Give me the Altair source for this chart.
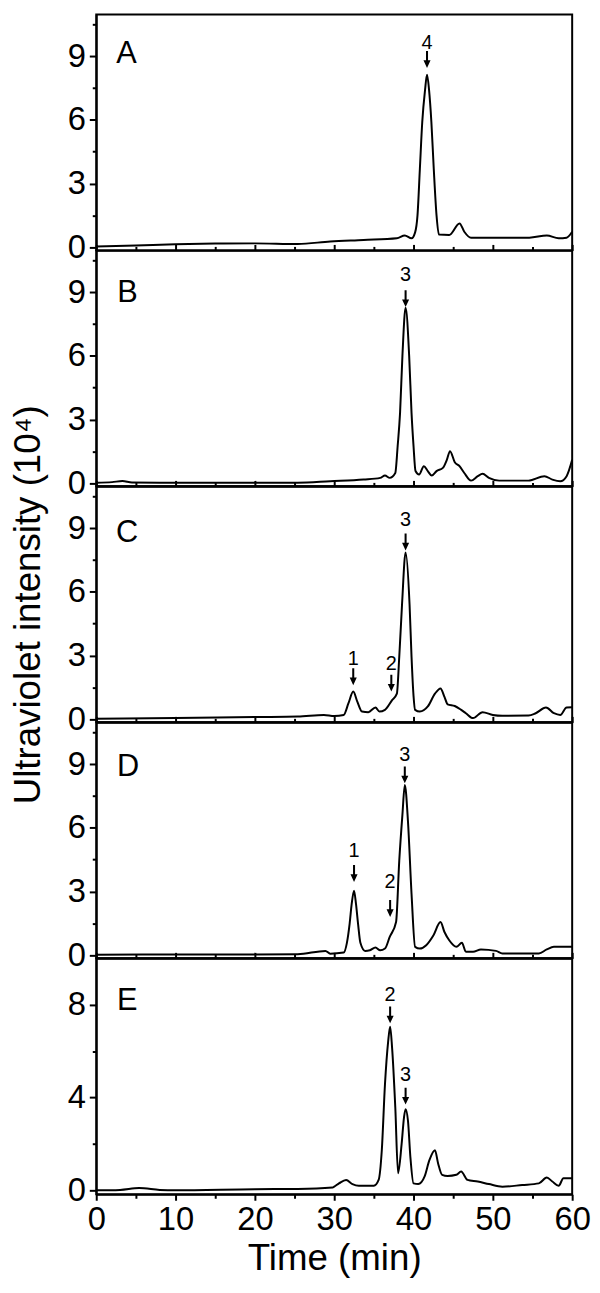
import altair as alt
import pandas as pd

FONT = "Liberation Sans"

# ---------------- data ----------------
x_ticks = [0, 5, 10, 15, 20, 25, 30, 35, 40, 45, 50, 55, 60]
y_ticks_ad = [0, 1.5, 3, 4.5, 6, 7.5, 9, 10.5]
y_ticks_e = [0, 2, 4, 6, 8]

panel_names = ["A", "B", "C", "D", "E"]
letter_x = [3.8, 3.94, 3.9, 4.0, 3.9]
letter_y = [9.1, 8.98, 8.75, 8.88, 8.17]

a_time = [0, 5, 10, 15, 20, 25.4, 29.5, 33.7, 37.9, 38.9, 39.75, 40.2, 40.5, 40.8, 41.1, 41.45,
          41.7, 41.96, 42.25, 42.55, 42.9, 43.2, 44.5, 45.8, 46.4, 47.25, 50.4, 54.6, 56.8, 58.3,
          59.3, 60]
a_int = [0.03, 0.08, 0.14, 0.17, 0.18, 0.15, 0.27, 0.34, 0.42, 0.55, 0.42, 0.7, 1.5, 3.7, 5.9, 7.4,
         8.13, 7.4, 5.9, 3.7, 1.5, 0.6, 0.58, 1.12, 0.73, 0.45, 0.45, 0.45, 0.55, 0.42,
         0.45, 0.73]

b_time = [0, 2, 3.3, 4.5, 10, 20, 25.4, 29.5, 33.7, 35.8, 36.4, 37.0, 37.7, 38.0, 38.3, 38.6,
          39.0, 39.45, 39.75, 40.0, 40.25, 40.7, 41.3, 41.8, 42.3, 42.9, 43.7, 44.2, 44.6, 45.2,
          45.8, 46.4, 47.25, 48.1, 48.7, 49.5, 50.8, 54.5, 56.5, 57.5, 58.5, 59.3, 60]
b_int = [0.02, 0.05, 0.1, 0.03, 0.02, 0.02, 0.02, 0.09, 0.17, 0.25, 0.36, 0.25, 0.48, 1.75, 3.3, 6.0,
         8.27, 6.0, 3.3, 1.75, 0.57, 0.41, 0.8, 0.57, 0.36, 0.57, 0.72, 1.1, 1.51, 0.99,
         0.8, 0.48, 0.12, 0.33, 0.44, 0.25, 0.12, 0.12, 0.33, 0.17, 0.09, 0.33, 1.1]

c_time = [0, 10, 20, 25.4, 28.7, 30.0, 31.2, 31.8, 32.4, 32.9, 33.5, 34.3, 35.2, 35.7, 36.4, 37.3,
          37.9, 38.2, 38.55, 39.0, 39.5, 39.75, 40.0, 40.2, 40.8, 41.8, 42.7, 43.4, 43.9, 44.3,
          45.2, 46.0, 46.6, 47.5, 48.7, 50.0, 51.2, 54.5, 55.4, 56.7, 57.7, 58.5, 59.3, 60]
c_int = [0.02, 0.05, 0.1, 0.12, 0.2, 0.15, 0.2, 0.75, 1.3, 0.84, 0.36, 0.33, 0.55, 0.36, 0.44, 0.9,
         1.2, 2.93, 5.4, 7.85, 5.4, 2.93, 1.1, 0.44, 0.36, 0.6, 1.2, 1.45, 1.05, 0.7,
         0.62, 0.44, 0.28, 0.05, 0.33, 0.2, 0.16, 0.17, 0.28, 0.55, 0.28, 0.2, 0.55, 0.56]

d_time = [0, 10, 20, 25.4, 28.9, 29.5, 31.2, 31.6, 31.95, 32.2, 32.5, 32.75, 33.0, 33.3, 33.9,
          34.5, 35.2, 35.8, 36.4, 37.0, 37.8, 38.2, 38.6, 38.9, 39.3, 39.75, 40.2, 40.8, 41.6,
          42.5, 43.4, 43.9, 44.5, 45.4, 46.1, 46.6, 47.5, 48.5, 50.4, 51.2, 55.8, 56.8, 57.7, 60]
d_int = [0.02, 0.03, 0.03, 0.04, 0.2, 0.07, 0.12, 0.58, 1.5, 2.4, 3.04, 2.4, 1.5, 0.58, 0.2,
         0.23, 0.36, 0.23, 0.31, 0.86, 1.56, 4.44, 6.62, 8.02, 6.3, 2.88, 0.39, 0.31, 0.47,
         0.93, 1.56, 1.09, 0.7, 0.39, 0.58, 0.16, 0.16, 0.27, 0.2, 0.08, 0.08, 0.27, 0.39, 0.39]

e_time = [0, 3, 5.4, 8, 10, 20, 25.4, 29.8, 30.0, 30.6, 31.5, 32.3, 33.1, 35.0, 35.6, 36.0, 36.4,
          36.8, 37.05, 37.3, 37.7, 38.05, 38.5, 38.8, 39.0, 39.3, 39.6, 40.0, 40.6, 41.4, 42.0,
          42.7, 43.1, 43.6, 44.3, 45.4, 46.0, 46.8, 48.1, 49.5, 51.2, 53.7, 55.8, 56.8, 57.5,
          58.3, 58.9, 60]
e_int = [0.0, 0.02, 0.1, 0.02, 0.0, 0.05, 0.06, 0.12, 0.16, 0.3, 0.45, 0.27, 0.2, 0.2, 0.45, 1.73,
         4.57, 6.41, 7.05, 6.13, 3.58, 0.74, 2.0, 3.15, 3.5, 3.0, 1.45, 0.3, 0.27, 0.6, 1.3,
         1.73, 1.16, 0.67, 0.62, 0.67, 0.81, 0.45, 0.38, 0.27, 0.16, 0.23, 0.3, 0.55, 0.38,
         0.2, 0.52, 0.52]

# peak annotations: label, time, arrow tip value, label centre value
ann_A = dict(label=["4"], t=[41.7], tip=[8.45], ty=[9.61])
ann_B = dict(label=["3"], t=[39.0], tip=[8.3], ty=[9.8])
ann_C = dict(label=["1", "2", "3"], t=[32.4, 37.2, 39.0], tip=[1.6, 1.3, 7.95], ty=[2.85, 2.62, 9.39])
ann_D = dict(label=["1", "2", "3"], t=[32.5, 37.05, 38.9], tip=[3.45, 1.8, 8.1], ty=[4.9, 3.43, 9.42])
ann_E = dict(label=["2", "3"], t=[37.05, 39.0], tip=[7.2, 3.7], ty=[8.4, 4.99])

y_domain_ad = [-0.15, 10.97]
y_domain_e = [-0.17, 10.0]

# ---------------- chart building ----------------
W, H = 480, 238
ARROW = "M-0.12,-1 L0.12,-1 L0.12,0.1 L0.42,0.1 L0,1 L-0.42,0.1 L-0.12,0.1 Z"
ARROW_R = 8.5


def tick_size(mod, big, small):
    return {"condition": {"test": f"datum.value % {mod} === 0", "value": big}, "value": small}


def top_ticks_axis():
    return alt.Axis(orient="top", values=x_ticks, labels=False, title=None, grid=False,
                    tickSize=tick_size(10, 6, 4))


def hidden_axis():
    return alt.Axis(orient="top", values=x_ticks, labels=False, title=None, grid=False,
                    ticks=False, domain=False)


def bottom_axis():
    return alt.Axis(orient="bottom", values=x_ticks, title="Time (min)",
                    labelExpr="datum.value % 10 === 0 ? datum.label : ''",
                    tickSize=tick_size(10, 6, 4), labelPadding=4, labelFontSize=33,
                    labelFlush=False, labelOverlap=False,
                    titleFontSize=37, titlePadding=4, titleFontWeight="normal", grid=False)


def make_panel(idx, times, vals, ann, ydomain, yvals, ymod, ytitle):
    xs = alt.Scale(domain=[0, 60], nice=False, zero=False)
    ys = alt.Scale(domain=ydomain, nice=False, zero=False)

    def y_axis():
        kw = dict(values=yvals, labelExpr=f"datum.value % {ymod} === 0 ? datum.label : ''",
                  tickSize=tick_size(ymod, 7, 4), labelPadding=4, grid=False, labelFontSize=33)
        if ytitle:
            return alt.Axis(title=ytitle, titleFontSize=37, titlePadding=20,
                            titleFontWeight="normal", **kw)
        return alt.Axis(title=None, **kw)

    if idx == 0:
        ax_line, ax_text, ax_arrow = hidden_axis(), hidden_axis(), hidden_axis()
    elif idx == 4:
        ax_line, ax_text, ax_arrow = bottom_axis(), top_ticks_axis(), hidden_axis()
    else:
        ax_line, ax_text, ax_arrow = top_ticks_axis(), top_ticks_axis(), top_ticks_axis()

    df = pd.DataFrame({"t": times, "v": vals})
    line = alt.Chart(df).mark_line(color="black", strokeWidth=2, interpolate="monotone").encode(
        x=alt.X("t:Q", scale=xs, axis=ax_line),
        y=alt.Y("v:Q", scale=ys, axis=y_axis()),
    )

    tdf = pd.DataFrame({
        "t": [letter_x[idx]] + list(ann["t"]),
        "v": [letter_y[idx]] + list(ann["ty"]),
        "txt": [panel_names[idx]] + list(ann["label"]),
        "fs": [31] + [20] * len(ann["label"]),
    })
    texts = alt.Chart(tdf).mark_text(font=FONT, baseline="middle", align="center",
                                     color="black").encode(
        x=alt.X("t:Q", scale=xs, axis=ax_text),
        y=alt.Y("v:Q", scale=ys, axis=y_axis()),
        text="txt:N",
        size=alt.Size("fs:Q", scale=None),
    )

    adf = pd.DataFrame({"t": ann["t"], "tip": ann["tip"]})
    arrows = alt.Chart(adf).mark_point(shape=ARROW, filled=True, size=(2 * ARROW_R) ** 2,
                                       opacity=1, color="black", strokeWidth=0,
                                       yOffset=-ARROW_R).encode(
        x=alt.X("t:Q", scale=xs, axis=ax_arrow),
        y=alt.Y("tip:Q", scale=ys, axis=y_axis()),
    )
    return alt.layer(line, texts, arrows).properties(width=W, height=H)


pA = make_panel(0, a_time, a_int, ann_A, y_domain_ad, y_ticks_ad, 3, None)
pB = make_panel(1, b_time, b_int, ann_B, y_domain_ad, y_ticks_ad, 3, None)
pC = make_panel(2, c_time, c_int, ann_C, y_domain_ad, y_ticks_ad, 3, "Ultraviolet intensity (10⁴)")
pD = make_panel(3, d_time, d_int, ann_D, y_domain_ad, y_ticks_ad, 3, None)
pE = make_panel(4, e_time, e_int, ann_E, y_domain_e, y_ticks_e, 4, None)

chart = alt.vconcat(pA, pB, pC, pD, pE, spacing=0, bounds="flush").properties(
    padding=0
).configure_view(
    stroke="black", strokeWidth=2
).configure_axis(
    domainColor="black", domainWidth=2, tickColor="black", tickWidth=2,
    labelColor="black", titleColor="black", labelFont=FONT, titleFont=FONT,
)

chart.save("out.html", embed_options={"renderer": "svg", "actions": False})
